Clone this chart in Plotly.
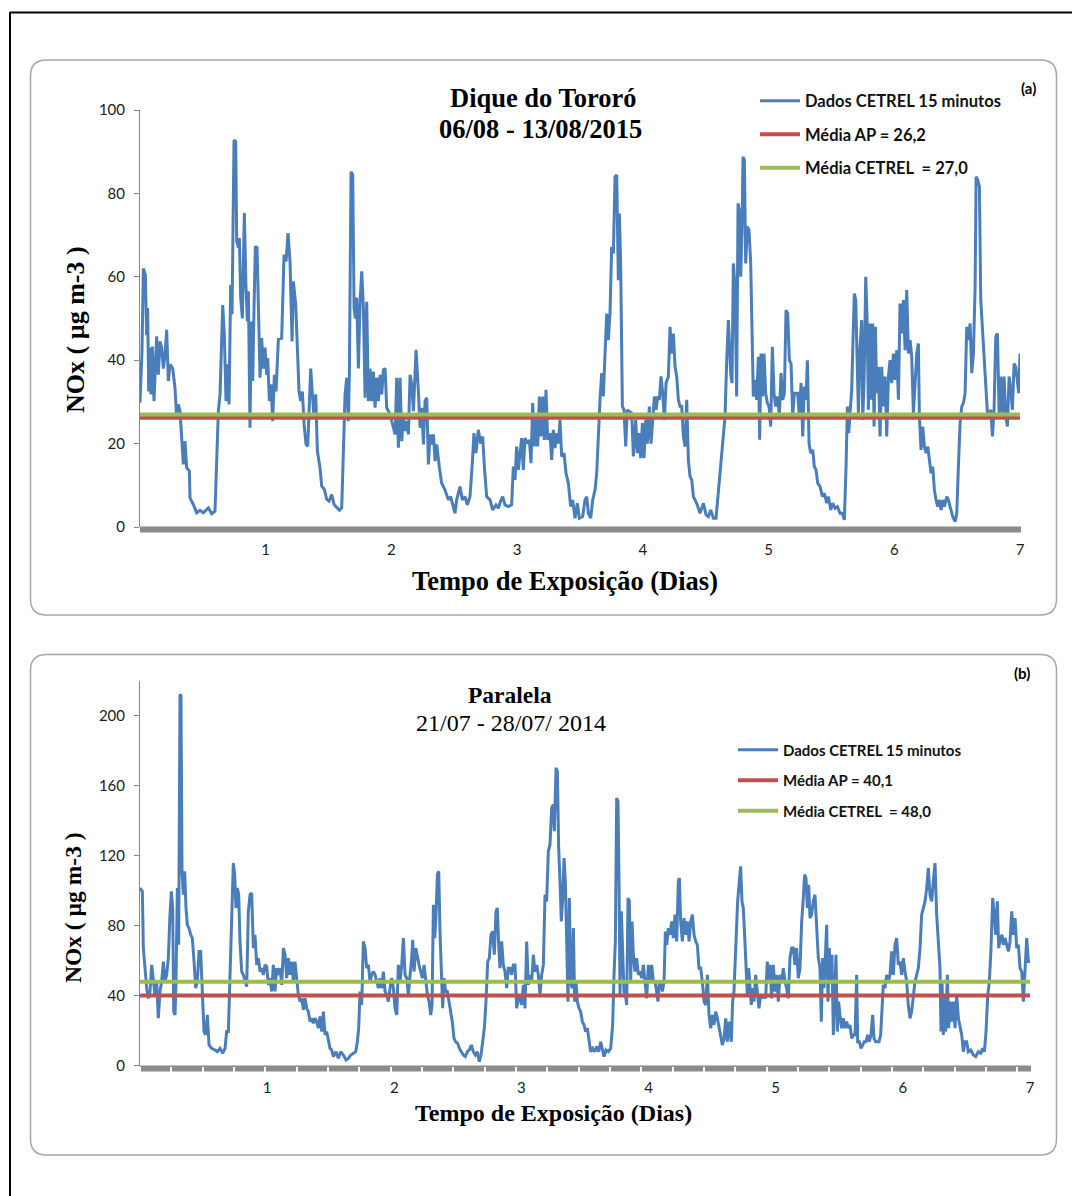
import plotly.graph_objects as go

# ---------------- DATA ----------------
# Panel (a): Dique do Tororó, 06/08 - 13/08/2015 (time in hours, NOx in ug m-3)
hours_a = [
    0.0, 0.38, 0.64, 1.02, 1.27, 1.46, 1.66, 1.91, 2.10, 2.36,
    2.67, 2.93, 3.18, 3.50, 3.82, 4.14, 4.46, 4.77, 5.09, 5.41,
    5.73, 6.24, 6.68, 7.00, 7.32, 7.64, 7.96, 8.27, 8.59, 8.91,
    9.42, 9.55, 10.18, 10.82, 11.46, 12.09, 13.05, 13.69, 14.32, 14.64,
    14.96, 15.28, 15.79, 16.10, 16.42, 16.74, 17.00, 17.31, 17.57, 17.95,
    18.27, 18.46, 18.78, 18.97, 19.22, 19.54, 19.92, 20.24, 20.50, 20.69,
    21.00, 21.26, 21.52, 21.77, 22.02, 22.34, 22.66, 22.92, 23.23, 23.55,
    23.87, 24.19, 24.38, 24.70, 25.02, 25.33, 25.65, 25.97, 26.42, 27.05,
    27.50, 27.88, 28.26, 28.64, 29.03, 29.28, 29.73, 30.04, 30.36, 30.68,
    31.00, 31.32, 31.70, 32.02, 32.27, 32.59, 32.91, 33.23, 33.55, 33.86,
    34.37, 34.69, 35.20, 35.65, 36.09, 36.60, 37.05, 37.56, 38.07, 38.51,
    38.83, 39.15, 39.47, 39.78, 39.97, 40.29, 40.61, 40.87, 41.12, 41.38,
    41.69, 42.01, 42.33, 42.65, 42.97, 43.28, 43.60, 43.92, 44.24, 44.56,
    44.88, 45.19, 45.51, 45.83, 46.15, 46.47, 46.79, 47.10, 47.74, 48.38,
    48.70, 49.01, 49.33, 49.65, 49.97, 50.29, 50.60, 50.92, 51.24, 51.56,
    51.88, 52.20, 52.70, 53.15, 53.47, 53.79, 54.11, 54.42, 54.74, 55.06,
    55.38, 55.70, 56.02, 56.33, 56.65, 57.16,
    57.59, 58.22, 58.86, 59.31, 59.82, 60.13, 60.45, 61.09, 61.53, 62.04,
    62.49, 63.00, 63.44, 63.76, 64.14, 64.59, 65.04, 65.42, 65.74, 66.18,
    66.82, 67.33, 67.96, 68.41, 68.92, 69.24, 69.68, 70.32, 70.95, 71.27,
    71.59, 71.91, 72.23, 72.55, 72.86, 73.18, 73.50, 73.95, 74.33, 74.65,
    74.97, 75.28, 75.60, 75.92, 76.24, 76.56, 76.87, 77.19, 77.51, 77.83,
    78.27, 78.59, 78.91, 79.23, 79.55, 79.87, 80.18, 80.50, 80.95, 81.33,
    81.78, 82.22, 82.60, 83.05, 83.49, 83.88, 84.51, 84.96, 85.28, 85.60,
    86.04, 86.42, 86.87, 87.19, 87.51, 87.82, 88.14, 88.46, 88.78, 89.10,
    89.41, 89.73, 90.05, 90.37, 90.69, 91.01, 91.32, 91.52, 91.77, 92.09,
    92.41, 92.72, 93.04, 93.42, 93.87, 94.19, 94.63, 94.95, 95.27, 95.59,
    95.91, 96.23, 96.54, 96.86, 97.24, 97.56, 97.88, 98.20, 98.52, 98.84,
    99.15, 99.47, 99.79, 100.11, 100.43, 100.87, 101.19, 101.51, 101.83, 102.15,
    102.46, 102.78, 103.10, 103.42, 103.74, 104.06, 104.37, 104.69, 105.01, 105.33,
    105.65, 106.28, 106.92, 107.56, 108.07, 108.51, 108.96, 109.47, 109.97, 110.29,
    110.61, 111.06, 111.37, 111.69, 112.01, 112.33,
    112.77, 113.02, 113.28, 113.59, 113.91, 114.17, 114.42, 114.68, 114.93, 115.12,
    115.38, 115.63, 115.95, 116.27, 116.59, 116.84, 117.09, 117.41, 117.73, 118.05,
    118.30, 118.56, 118.88, 119.13, 119.45, 119.77, 120.09, 120.41, 120.72, 121.04,
    121.36, 121.74, 122.06, 122.38, 122.70, 123.02, 123.33, 123.65, 123.97, 124.29,
    124.61, 124.92, 125.24, 125.56, 125.88, 126.20, 126.52, 126.83, 127.15, 127.41,
    127.73, 128.04, 128.43, 128.74, 129.06, 129.38, 129.83, 130.27, 130.65, 131.10,
    131.42, 131.86, 132.24, 132.69, 133.14, 133.64, 134.09, 134.47, 134.79, 135.05,
    135.30, 135.55, 135.87, 136.19, 136.38, 136.64, 136.89, 137.15, 137.46, 137.78,
    137.97, 138.23, 138.55, 138.80, 139.06, 139.37, 139.63, 139.88, 140.14, 140.39,
    140.65, 140.97, 141.28, 141.60, 141.92, 142.24, 142.56, 142.88, 143.19, 143.51,
    143.83, 144.15, 144.47, 144.79, 145.10, 145.42, 145.74, 146.06, 146.38, 146.69,
    147.01, 147.33, 147.65, 147.97, 148.29, 148.60, 148.79, 149.11, 149.43, 149.75,
    150.07, 150.39, 150.70, 151.02, 151.34, 151.66, 151.98, 152.30, 152.61, 152.93,
    153.25, 153.57, 154.02, 154.33, 154.65, 155.16, 155.61, 155.93, 156.24, 156.56,
    156.88, 157.20, 157.52, 157.83, 158.15, 158.47, 158.79, 159.11, 159.43, 159.62,
    159.94, 160.25, 160.51, 160.83, 161.14, 161.46, 161.78, 162.10, 162.42, 162.74,
    163.05, 163.37, 163.69, 164.01, 164.33, 164.64, 164.96, 165.28, 165.60, 165.92,
    166.24, 166.55, 166.87, 167.19, 167.51, 167.76, 168.00,
]
nox_a = [
    29.8, 42, 62, 60.5, 46, 52.5, 32.5, 43, 31.8, 43.3,
    30.2, 38, 45.7, 36.5, 44.5, 43, 38, 41.3, 47.3, 35,
    39, 38, 33.4, 26.2, 29.4, 27.8, 20.6, 15, 20.6, 14.2,
    13.4, 7, 5.4, 3.4, 4, 3.4, 4.6, 3.2, 3.8, 14.2,
    27.8, 31.8, 53.2, 46, 30.2, 39, 29.4, 58, 51, 92.8,
    92.4, 68.5, 67, 69.3, 55, 50, 75.3, 57.3, 49.3, 56.5,
    23.8, 49.3, 35, 52.5, 67.3, 67, 52.5, 35.8, 45.3, 38,
    43, 36.5, 40.5, 30.2, 34.2, 25.4, 36.5, 32.5, 45, 45.3,
    65.3, 63.7, 70.5, 63.7, 44.5, 58.9, 53.3, 43.7, 32.5, 30.2,
    32.5, 24.6, 19.8, 19.4, 30.2, 38, 31.8, 26.2, 31.8, 18.2,
    14.2, 9.8, 9, 6.6, 6.2, 7.8, 5.4, 4.6, 4, 4.6,
    18.2, 31.8, 35.8, 25.4, 36.5, 85.2, 84.4, 52.5, 50, 55,
    38, 54, 61.3, 52.5, 31, 54, 30.2, 38, 30.2, 37.3,
    28.6, 35.8, 30.2, 36.5, 31.8, 37.7, 38, 28.6, 27, 24.2,
    22.2, 35.8, 19, 35.8, 20.6, 27, 23, 25.4, 22.2, 36.5,
    34.2, 27.8, 42.5, 32.5, 23.8, 28.6, 19.8, 30.2, 31, 15,
    22.2, 19.8, 22.2, 15.8, 19.8, 14.2,
    10.5, 8.9, 6.5, 7.3, 4.9, 3.3, 6.5, 9.7, 6.5, 7.3,
    5.3, 7.3, 15.3, 22.5, 17.7, 23.3, 20, 21.7, 14.5, 7.3,
    6.5, 4.1, 5.3, 4.5, 6.5, 7.3, 5.3, 4.9, 5.3, 14.5,
    11.3, 19.3, 13.7, 17.7, 21.3, 13.7, 21.3, 20, 20.9, 15.3,
    29.7, 19.3, 25.7, 19.3, 31.3, 21.7, 31.3, 20.9, 32.9, 20.9,
    22.5, 16.1, 23.3, 18.9, 22.5, 20, 25.7, 16.9, 17.7, 12.9,
    10.5, 4.9, 6.5, 2.1, 5.7, 2.1, 2.5, 6.5, 7.3, 3.3,
    2.1, 6.5, 8.9, 12.9, 22.5, 30.5, 36.9, 31.3, 41.6, 51.2,
    44.8, 51.2, 67.2, 65.6, 84, 84.4, 59.2, 75.2, 62.4, 28.9,
    28.1, 19.3, 28.1, 27.7, 27.3, 16.9, 25.7, 17.7, 22.5, 16.5,
    24.9, 16.5, 25.7, 20, 28.9, 20, 24.9, 31.3, 28.1, 31.3,
    30.5, 36.1, 32.1, 25.7, 34.5, 36.1, 48, 41.6, 46.4, 38.4,
    36.1, 30.5, 28.9, 28.9, 21.7, 19.3, 30.5, 16.1, 12.1, 11.3,
    7.3, 5.7, 3.3, 5.7, 2.9, 2.5, 4.1, 2.1, 2.1, 6.5,
    10.5, 17.7, 22.5, 26.5, 40, 49.6,
    36.9, 34.5, 63.2, 57.6, 31.3, 77.6, 76, 60, 71.2, 88.8,
    88, 63.2, 72, 71.2, 63.2, 46.4, 31.3, 35.3, 30.5, 40.8,
    20.9, 41.6, 31.3, 41.6, 32.1, 29.7, 28.9, 24.1, 43.2, 32.1,
    28.9, 31.3, 26.5, 36.9, 30.5, 32.1, 52, 51.2, 40, 39.2,
    26.5, 32.1, 32.1, 32.1, 26.5, 34.5, 21.7, 33.7, 30.5, 40,
    20, 17.7, 18.5, 14.5, 13.7, 10.5, 9.7, 7.3, 8.1, 5.7,
    7.3, 4.1, 5.7, 4.5, 4.9, 3.3, 3.3, 1.7, 14.5, 28.9,
    22.5, 27.3, 32.9, 48, 56, 54.4, 41.6, 27.3, 43.2, 49.6,
    25.7, 34.5, 60, 50.4, 28.1, 48.8, 30.5, 48.8, 24.1, 48,
    32.1, 38.4, 21.7, 38.4, 28.9, 36.1, 21.7, 36.1, 40, 34.5,
    41.6, 35.3, 42.4, 30.5, 53.6, 46.4, 54.4, 42.4, 56.8, 41.6,
    44.8, 40.8, 27.3, 33.7, 41.6, 44, 26.5, 18.5, 24.1, 19.3,
    17.7, 19.3, 15.3, 12.9, 14.5, 8.9, 6.5, 4.9, 6.5, 4.1,
    6.5, 4.9, 7.3, 6.5, 4.9, 2.5, 1.3, 3.3, 14.5, 24.9,
    28.9, 29.7, 32.1, 48, 44.8, 48.8, 36.9, 41.6, 57.6, 84,
    83.2, 81.6, 54.4, 47.2, 39.2, 32.1, 27.3, 27.3, 28.1, 21.7,
    28.1, 45.6, 46.4, 27.3, 36.1, 27.3, 36.1, 26.5, 24.1, 36.1,
    32.9, 28.1, 39.2, 38.4, 35.3, 32.1, 41.6,
]
mean_ap_a = 26.2
mean_cetrel_a = 27.0

# Panel (b): Paralela, 21/07 - 28/07/2014
hours_b = [
    0.0, 0.44, 0.63, 0.94, 1.26, 1.57, 1.89, 2.20, 2.52, 2.83,
    3.15, 3.46, 3.78, 4.09, 4.41, 4.72, 5.03, 5.35, 5.66, 5.92,
    6.17, 6.36, 6.61, 6.80, 7.05, 7.30, 7.55, 7.74, 7.93, 8.18,
    8.43, 8.68, 8.94, 9.25, 9.57, 9.88, 10.20, 10.51, 10.82, 11.14,
    11.45, 11.77, 12.08, 12.40, 12.71, 13.03, 13.53, 14.16, 14.60, 15.10,
    15.61, 16.05, 16.36, 16.68, 16.99, 17.31, 17.62, 17.87, 18.12, 18.38,
    18.63, 18.88, 19.19, 19.51, 19.82, 20.14, 20.45, 20.77, 21.08, 21.40,
    21.71, 22.03, 22.34, 22.66, 22.97, 23.28, 23.60, 23.91, 24.23, 24.54,
    24.86, 25.17, 25.49, 25.80, 26.12, 26.43, 26.75, 27.06, 27.38, 27.69,
    28.01, 28.32, 28.63, 28.95, 29.26, 29.58, 29.89, 30.21, 30.52, 30.84,
    31.15, 31.47, 31.78, 32.10, 32.41, 32.72, 33.04, 33.35, 33.67, 33.98,
    34.30, 34.61, 34.93, 35.24, 35.56, 35.87, 36.19, 36.50, 37.00, 37.45,
    37.89, 38.39, 38.89, 39.33, 39.77, 40.28, 40.72, 41.03, 41.28, 41.54,
    41.85, 42.16, 42.48, 42.79, 43.11, 43.42, 43.74, 44.05, 44.37, 44.68,
    45.00, 45.31, 45.63, 45.94, 46.26, 46.57, 46.88, 47.20, 47.51, 47.83,
    48.14, 48.46, 48.77, 49.09, 49.40, 49.72, 50.03, 50.35, 50.66, 50.98,
    51.29, 51.48, 51.73, 52.05, 52.36, 52.67, 52.99, 53.30, 53.62, 53.93,
    54.25, 54.56, 54.88, 55.13, 55.38, 55.63, 55.88, 56.14, 56.39,
    56.63, 56.88, 57.13, 57.38, 57.70, 58.01, 58.33, 58.64, 58.95, 59.27,
    59.58, 59.96, 60.28, 60.65, 61.03, 61.41, 61.79, 62.16, 62.54, 62.92,
    63.30, 63.67, 64.05, 64.37, 64.68, 65.00, 65.31, 65.63, 65.94, 66.25,
    66.57, 66.88, 67.20, 67.45, 67.70, 67.95, 68.27, 68.58, 68.90, 69.21,
    69.53, 69.84, 70.16, 70.47, 70.79, 71.10, 71.42, 71.73, 72.04, 72.36,
    72.67, 72.99, 73.30, 73.62, 73.93, 74.25, 74.56, 74.88, 75.19, 75.51,
    75.82, 76.14, 76.45, 76.76, 77.08, 77.39, 77.71, 78.02, 78.21, 78.53,
    78.78, 79.03, 79.28, 79.53, 79.79, 80.04, 80.29, 80.54, 80.79, 81.04,
    81.30, 81.55, 81.80, 82.05, 82.30, 82.55, 82.87, 83.18, 83.50, 83.81,
    84.13, 84.44, 84.76, 85.07, 85.45, 85.83, 86.20, 86.58, 86.96, 87.27,
    87.59, 87.97, 88.41, 88.85, 89.22, 89.48, 89.73, 89.98, 90.23, 90.42,
    90.61, 90.86, 91.11, 91.36, 91.62, 91.87, 92.12, 92.37, 92.62, 92.88,
    93.13, 93.44, 93.76, 94.07, 94.39, 94.70, 95.02, 95.33, 95.64, 95.96,
    96.27, 96.59, 96.90, 97.22, 97.53, 97.78, 98.03, 98.29, 98.60, 98.92,
    99.17, 99.42, 99.73, 100.05, 100.36, 100.68, 100.99, 101.31, 101.62, 101.81,
    102.06, 102.38, 102.69, 103.01, 103.32, 103.64, 103.95, 104.27, 104.58, 104.90,
    105.21, 105.52, 105.84, 106.15, 106.47, 106.78, 107.10, 107.41, 107.73, 108.04,
    108.36, 108.67, 108.99, 109.30, 109.62, 109.93, 110.25, 110.56, 110.87, 111.19,
    111.62, 111.87, 112.12, 112.31, 112.56, 112.81, 113.13, 113.38, 113.63, 113.88,
    114.13, 114.39, 114.64, 114.89, 115.14, 115.39, 115.65, 115.90, 116.21, 116.53,
    116.84, 117.16, 117.47, 117.79, 118.10, 118.41, 118.67, 118.92, 119.23, 119.55,
    119.86, 120.18, 120.49, 120.81, 121.12, 121.43, 121.75, 122.06, 122.38, 122.69,
    123.01, 123.32, 123.64, 123.95, 124.27, 124.58, 124.90, 125.21, 125.46, 125.71,
    125.97, 126.22, 126.47, 126.78, 127.10, 127.41, 127.73, 128.04, 128.36, 128.61,
    128.86, 129.11, 129.36, 129.62, 129.87, 130.12, 130.37, 130.62, 130.88, 131.13,
    131.38, 131.63, 131.88, 132.13, 132.45, 132.76, 133.08, 133.39, 133.71, 134.02,
    134.34, 134.65, 134.97, 135.28, 135.47, 135.78, 136.10, 136.41, 136.73, 137.04,
    137.36, 137.67, 137.99, 138.30, 138.55, 138.87, 139.18, 139.50, 139.81, 140.06,
    140.31, 140.63, 140.94, 141.26, 141.57, 141.89, 142.20, 142.52, 142.83, 143.15,
    143.46, 143.78, 144.09, 144.41, 144.72, 145.03, 145.35, 145.66, 145.98, 146.29,
    146.61, 146.92, 147.24, 147.55, 147.87, 148.18, 148.50, 148.81, 149.12, 149.44,
    149.75, 150.07, 150.38, 150.70, 151.01, 151.20, 151.39, 151.64, 151.83, 152.08,
    152.40, 152.65, 152.90, 153.22, 153.53, 153.85, 154.16, 154.48, 154.79, 155.11,
    155.42, 155.73, 156.05, 156.36, 156.80, 157.31, 157.75, 158.25, 158.70, 159.07,
    159.39, 159.70, 160.02, 160.33, 160.64, 160.96, 161.27, 161.52, 161.84, 162.09,
    162.41, 162.72, 162.97, 163.29, 163.60, 163.92, 164.23, 164.55, 164.86, 165.18,
    165.49, 165.81, 166.12, 166.44, 166.75, 167.06, 167.38, 167.69, 168.00,
]
nox_b = [
    101.5, 99.6, 67.2, 53.8, 44.3, 38.5, 42.4, 57.6, 48.1, 40.5,
    48.1, 27.1, 42.4, 48.1, 59.5, 48.1, 51.9, 61.5, 86.3, 99.6,
    90.1, 30.9, 29, 48.1, 101.5, 69.1, 212.2, 211.3, 111.1, 97.7,
    111.1, 90.1, 80.5, 78.6, 74.8, 72.9, 59.5, 44.3, 48.1, 65.3,
    65.3, 36.6, 19.5, 17.6, 29, 11.8, 9.9, 9, 8, 9.9,
    7.1, 9.9, 19.5, 19.5, 48.1, 80.5, 115.8, 109.2, 90.1, 101.5,
    97.7, 71, 53.8, 51.9, 48.1, 45.2, 88.2, 97.7, 98.7, 67.2,
    74.8, 57.6, 61.5, 53.8, 55.7, 51.9, 57.6, 56.7, 46.2, 50,
    42.4, 57.6, 42.4, 55.7, 51.9, 55.7, 46.2, 67.2, 63.4, 50,
    61.5, 51.9, 59.5, 48.1, 59.5, 50, 40.5, 36.6, 38.5, 31.9,
    38.5, 32.8, 30.9, 25.2, 27.1, 24.2, 27.1, 25.2, 21.4, 28.1,
    19.5, 30.9, 17.6, 19.5, 13.7, 9.9, 9, 5.2, 8, 4.2,
    8, 6.1, 3.2, 4.2, 6.1, 7.1, 8, 13.7, 21.4, 42.4,
    34.7, 71, 67.2, 55.7, 57.6, 48.1, 51.9, 53.8, 51.9, 48.1,
    44.3, 50, 44.3, 53.8, 42.4, 40.5, 36.6, 44.3, 50, 44.3,
    32.8, 29, 57.6, 48.1, 57.6, 72.9, 51.9, 50, 40.5, 51.9,
    61.5, 71.9, 53.8, 67.2, 61.5, 57.6, 53.8, 50, 57.6, 48.1,
    40.5, 36.6, 29, 34.7, 92, 72.9, 86.3, 109.2, 111.1,
    76.7, 53.8, 32.8, 50, 42.4, 42.4, 36.6, 29, 25.2, 15.6,
    13.7, 12.8, 9.9, 8, 6.1, 5.2, 8, 9, 11.8, 8,
    6.1, 8, 2.3, 6.1, 13.7, 21.4, 36.6, 59.5, 61.5, 74.8,
    76.7, 63.4, 88.2, 90.1, 69.1, 55.7, 71, 57.6, 53.8, 44.3,
    55.7, 55.7, 51.9, 57.6, 57.6, 32.8, 38.5, 38.5, 34.7, 46.2,
    32.8, 71, 46.2, 51.9, 48.1, 63.4, 53.8, 57.6, 51.9, 40.5,
    51.9, 57.6, 97.7, 93.9, 122.5, 126.3, 147.3, 149.2, 134, 170.2,
    168.3, 124.4, 105.3, 82.4, 95.8, 118.7, 105.3, 71, 36.6, 95.8,
    48.1, 44.3, 78.6, 36.6, 48.1, 36.6, 32.8, 30.9, 25.2, 23.3,
    19.5, 21.4, 15.6, 8, 9.9, 8, 10.9, 8, 13.7, 9,
    5.2, 9, 8, 9.9, 23.3, 51.9, 71, 153, 151.1, 105.3,
    40.5, 88.2, 63.4, 42.4, 40.5, 34.7, 95.8, 93.9, 48.1, 82.4,
    63.4, 53.8, 61.5, 51.9, 53.8, 50, 57.6, 48.1, 38.5, 57.6,
    48.1, 57.6, 48.1, 48.1, 42.4, 36.6, 48.1, 48.1, 42.4, 48.1,
    76.7, 69.1, 78.6, 74.8, 82.4, 72.9, 86.3, 71, 105.3, 107.3,
    82.4, 71, 84.4, 74.8, 82.4, 71, 82.4, 86.3, 74.8, 71,
    69.1, 55.7, 55.7, 48.1, 36.6, 34.7, 51.9, 29, 21.4, 29,
    23.3, 30.9, 27.1, 21.4, 17.6, 11.8, 15.6, 27.1, 13.7, 25.2,
    13.7, 36.6, 42.4, 57.6, 69.1, 93.9, 105.3, 113.9, 93.9, 90.1,
    74.8, 59.5, 40.5, 55.7, 44.3, 34.7, 44.3, 36.6, 51.9, 40.5,
    32.8, 40.5, 38.5, 40.5, 38.5, 59.5, 48.1, 57.6, 38.5, 57.6,
    42.4, 51.9, 36.6, 51.9, 48.1, 55.7, 48.1, 44.3, 38.5, 61.5,
    67.2, 67.2, 57.6, 67.2, 50, 55.7, 82.4, 95.8, 109.2, 107.3,
    90.1, 103.4, 84.4, 86.3, 93.9, 97.7, 82.4, 61.5, 55.7, 25.2,
    61.5, 44.3, 61.5, 80.5, 36.6, 67.2, 48.1, 63.4, 17.6, 48.1,
    63.4, 19.5, 36.6, 29, 21.4, 27.1, 21.4, 25.2, 21.4, 23.3,
    15.6, 17.6, 17.6, 51.9, 13.7, 13.7, 9.9, 11.8, 13.7, 13.7,
    17.6, 13.7, 17.6, 29, 15.6, 13.7, 13.7, 13.7, 17.6, 36.6,
    46.2, 44.3, 51.9, 48.1, 51.9, 65.3, 51.9, 69.1, 72.9, 57.6,
    59.5, 51.9, 61.5, 53.8, 48.1, 34.7, 27.1, 30.9, 40.5, 48.1,
    51.9, 55.7, 67.2, 86.3, 90.1, 93.9, 101.5, 113, 97.7, 93.9,
    105.3, 115.8, 86.3, 67.2, 55.7, 19.5, 48.1, 17.6, 40.5, 19.5,
    51.9, 21.4, 36.6, 25.2, 36.6, 21.4, 40.5, 27.1, 21.4, 17.6,
    8, 13.7, 13.7, 8, 9, 6.1, 5.2, 8, 7.1, 9.9,
    8, 19.5, 40.5, 48.1, 67.2, 95.8, 86.3, 74.8, 93.9, 67.2,
    72.9, 74.8, 69.1, 72.9, 69.1, 65.3, 71, 88.2, 74.8, 84.4,
    67.2, 69.1, 55.7, 53.8, 36.6, 57.6, 72.9, 59.5, 59.5,
]
mean_ap_b = 40.1
mean_cetrel_b = 48.0

day_ticks = [1, 2, 3, 4, 5, 6, 7]
y_ticks_a = [0, 20, 40, 60, 80, 100]
y_ticks_b = [0, 40, 80, 120, 160, 200]
series_names_a = ["Dados CETREL 15 minutos", "Média AP = 26,2", "Média CETREL  = 27,0"]
series_names_b = ["Dados CETREL 15 minutos", "Média AP = 40,1", "Média CETREL  = 48,0"]

# ---------------- STYLE ----------------
W, H = 1072, 1196
BLUE, RED, GREEN = "#4A7EBB", "#C0504D", "#9BBB59"
AXIS_GRAY = "#868686"
BAR_GRAY = "#8C8C8C"
SANS = "Lato"
SERIF = "Liberation Serif"


def X(p):
    return p / W


def Y(p):
    return 1 - p / H


def days(hours):
    return [h / 24.0 for h in hours]


n_a = min(len(hours_a), len(nox_a))
n_b = min(len(hours_b), len(nox_b))

fig = go.Figure()

# panel (a)
fig.add_trace(go.Scatter(x=days(hours_a[:n_a]), y=nox_a[:n_a], mode="lines",
                         line=dict(color=BLUE, width=3), name=series_names_a[0],
                         xaxis="x", yaxis="y", legend="legend", legendgroup="a1"))
fig.add_trace(go.Scatter(x=[0, 7], y=[mean_ap_a, mean_ap_a], mode="lines",
                         line=dict(color=RED, width=4), name=series_names_a[1],
                         xaxis="x", yaxis="y", legend="legend", legendgroup="a2"))
fig.add_trace(go.Scatter(x=[0, 7], y=[mean_cetrel_a, mean_cetrel_a], mode="lines",
                         line=dict(color=GREEN, width=4), name=series_names_a[2],
                         xaxis="x", yaxis="y", legend="legend", legendgroup="a3"))
# panel (b)
fig.add_trace(go.Scatter(x=days(hours_b[:n_b]), y=nox_b[:n_b], mode="lines",
                         line=dict(color=BLUE, width=3), name=series_names_b[0],
                         xaxis="x2", yaxis="y2", legend="legend2", legendgroup="b1"))
fig.add_trace(go.Scatter(x=[0, 7], y=[mean_ap_b, mean_ap_b], mode="lines",
                         line=dict(color=RED, width=4), name=series_names_b[1],
                         xaxis="x2", yaxis="y2", legend="legend2", legendgroup="b2"))
fig.add_trace(go.Scatter(x=[0, 7], y=[mean_cetrel_b, mean_cetrel_b], mode="lines",
                         line=dict(color=GREEN, width=4), name=series_names_b[2],
                         xaxis="x2", yaxis="y2", legend="legend2", legendgroup="b3"))

tickfont = dict(family=SANS, size=15, color="#1a1a1a")

common_y = dict(showgrid=False, zeroline=False, showline=True, linecolor=AXIS_GRAY,
                linewidth=1, ticks="outside", ticklen=5, tickcolor=AXIS_GRAY,
                tickfont=tickfont, ticklabelstandoff=6, fixedrange=True)

fig.update_layout(
    width=W, height=H,
    margin=dict(l=0, r=0, t=0, b=0, pad=0, autoexpand=False),
    paper_bgcolor="white", plot_bgcolor="rgba(0,0,0,0)",
    xaxis=dict(domain=[X(140), X(1020)], range=[0, 7], anchor="y",
               showgrid=False, zeroline=False, showline=False, ticks="",
               tickmode="array", tickvals=day_ticks, ticktext=[str(d) for d in day_ticks],
               tickfont=tickfont, ticklabelstandoff=12),
    yaxis=dict(domain=[Y(527), Y(110)], range=[0, 100], anchor="x",
               tickmode="array", tickvals=y_ticks_a, **common_y),
    xaxis2=dict(domain=[X(140), X(1030)], range=[0, 7], anchor="y2",
                showgrid=False, zeroline=False, showline=False, ticks="",
                tickmode="array", tickvals=day_ticks, ticktext=[str(d) for d in day_ticks],
                tickfont=tickfont, ticklabelstandoff=11,
                minor=dict(ticks="outside", tickmode="linear", tick0=0, dtick=0.2464,
                           ticklen=6, tickwidth=2, tickcolor="white", showgrid=False)),
    yaxis2=dict(domain=[Y(1065.7), Y(680.7)], range=[0, 220], anchor="x2",
                tickmode="array", tickvals=y_ticks_b, **common_y),
    legend=dict(x=X(755), y=Y(83.5), xanchor="left", yanchor="top",
                bgcolor="rgba(0,0,0,0)", borderwidth=0,
                font=dict(family=SANS, size=16.5, color="#111", weight="bold"),
                traceorder="grouped", tracegroupgap=9, itemwidth=40),
    legend2=dict(x=X(733), y=Y(733.5), xanchor="left", yanchor="top",
                 bgcolor="rgba(0,0,0,0)", borderwidth=0,
                 font=dict(family=SANS, size=15, color="#111", weight="bold"),
                 traceorder="grouped", tracegroupgap=8, itemwidth=40),
)


def rrect(x0, y0, x1, y1, r):
    pts = [
        ("M", [(x0 + r, y0)]), ("L", [(x1 - r, y0)]), ("Q", [(x1, y0), (x1, y0 + r)]),
        ("L", [(x1, y1 - r)]), ("Q", [(x1, y1), (x1 - r, y1)]),
        ("L", [(x0 + r, y1)]), ("Q", [(x0, y1), (x0, y1 - r)]),
        ("L", [(x0, y0 + r)]), ("Q", [(x0, y0), (x0 + r, y0)]),
    ]
    s = ""
    for cmd, ps in pts:
        s += cmd + " ".join(f"{X(a):.5f},{Y(b):.5f}" for a, b in ps) + " "
    return s + "Z"


shapes = [
    dict(type="line", xref="paper", yref="paper", x0=X(10), x1=X(1072), y0=Y(12.5), y1=Y(12.5),
         line=dict(color="black", width=2)),
    dict(type="line", xref="paper", yref="paper", x0=X(10), x1=X(10), y0=Y(12), y1=Y(1196),
         line=dict(color="black", width=2)),
    dict(type="path", xref="paper", yref="paper", path=rrect(30.5, 60, 1056.5, 615, 16),
         line=dict(color="#A6A6A6", width=1.5), layer="below"),
    dict(type="path", xref="paper", yref="paper", path=rrect(30.5, 654.5, 1056.5, 1155, 16),
         line=dict(color="#A6A6A6", width=1.5), layer="below"),
    dict(type="rect", xref="paper", yref="paper", x0=X(140), x1=X(1021), y0=Y(532.5), y1=Y(526.5),
         fillcolor=BAR_GRAY, line=dict(width=0), layer="above"),
    dict(type="rect", xref="paper", yref="paper", x0=X(140), x1=X(1031), y0=Y(1071.5), y1=Y(1065.5),
         fillcolor=BAR_GRAY, line=dict(width=0), layer="below"),
]
fig.update_layout(shapes=shapes)


def ann(text, x, y, size, family=SERIF, color="#000", textangle=0):
    return dict(text=text, x=X(x), y=Y(y), xref="paper", yref="paper", showarrow=False,
                xanchor="center", yanchor="middle", textangle=textangle,
                font=dict(family=family, size=size, color=color))


annotations = [
    ann("<b>Dique do Tororó</b>", 543, 98, 26.5),
    ann("<b>06/08 - 13/08/2015</b>", 540, 129, 26.5),
    ann("<b>Tempo de Exposição (Dias)</b>", 565, 581, 26.5),
    ann("<b>NOx ( µg m-3 )</b>", 76, 330, 26, textangle=-90),
    ann("<b>(a)</b>", 1028, 88, 15, family=SANS),
    ann("<b>Paralela</b>", 510, 695, 23.5),
    ann("21/07 - 28/07/ 2014", 511, 723, 24),
    ann("<b>Tempo de Exposição (Dias)</b>", 553, 1113, 24),
    ann("<b>NOx ( µg m-3 )</b>", 73, 908, 23.5, textangle=-90),
    ann("<b>(b)</b>", 1022, 673, 15, family=SANS),
]
fig.update_layout(annotations=annotations)

fig.write_html("out.html")
